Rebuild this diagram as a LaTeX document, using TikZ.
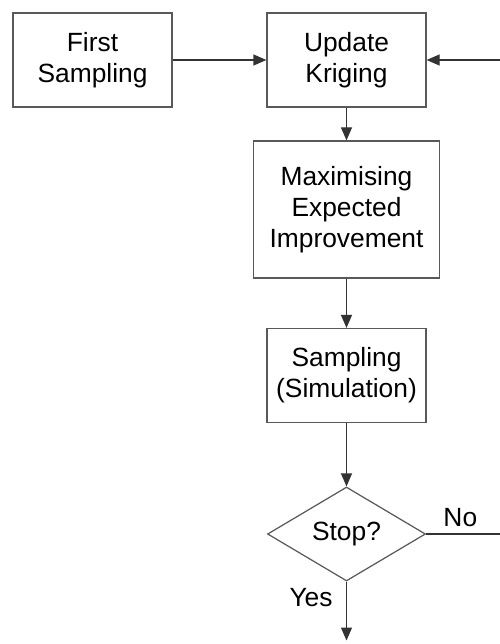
\documentclass[tikz,border=0pt]{standalone}
\usepackage{fontspec}
\setmainfont{Liberation Sans}
\usetikzlibrary{arrows.meta,positioning,shapes.geometric}

\begin{document}
\begin{tikzpicture}
  [node distance=3cm,on grid,>={Triangle[length=2.6mm,width=2.2mm]},
  every node/.style={font=\fontsize{15}{17.8}\selectfont},
  box/.style={draw=black!65,line width=0.7pt,minimum width=3.18cm,
    minimum height=1.88cm,inner sep=0pt,align=center},
  wide box/.style={box,minimum width=3.72cm,minimum height=2.74cm},
  decision/.style={diamond,draw=black!65,line width=0.7pt,inner sep=0pt,
    minimum width=3.16cm,minimum height=1.88cm,aspect=1.68},
  flow/.style={->,draw=black!80,line width=0.7pt}]
  \useasboundingbox (0,0) rectangle (10,-12.88);
  \node [box] (first) at (1.85,-1.2) {First\\Sampling};
  \node [box] (update) [right=5.08cm of first] {Update\\Kriging};
  \node [wide box] (maxei) [below=2.99cm of update]
  {Maximising\\Expected\\Improvement};
  \node [box] (sampling) [below=3.32cm of maxei] {Sampling\\(Simulation)};
  \node [decision] (stop) [below=3.17cm of sampling] {Stop?};
  \coordinate [right=3.06cm of stop] (noend);
  \coordinate (back) at (noend |- update);
  \coordinate [below=2.13cm of stop] (yesend);

  \draw [flow] (first) -- (update);
  \draw [flow] (update) -- (maxei);
  \draw [flow] (maxei) -- (sampling);
  \draw [flow] (sampling) -- (stop);
  \draw [draw=black!80,line width=0.7pt] (stop) --
  node [yshift=0.32cm,xshift=-0.05cm] {No} (noend);
  \draw [flow] (back) -- (update);
  \draw [flow] (stop) -- node [pos=0.27,left=0.15cm] {Yes} (yesend);
\end{tikzpicture}
\end{document}
